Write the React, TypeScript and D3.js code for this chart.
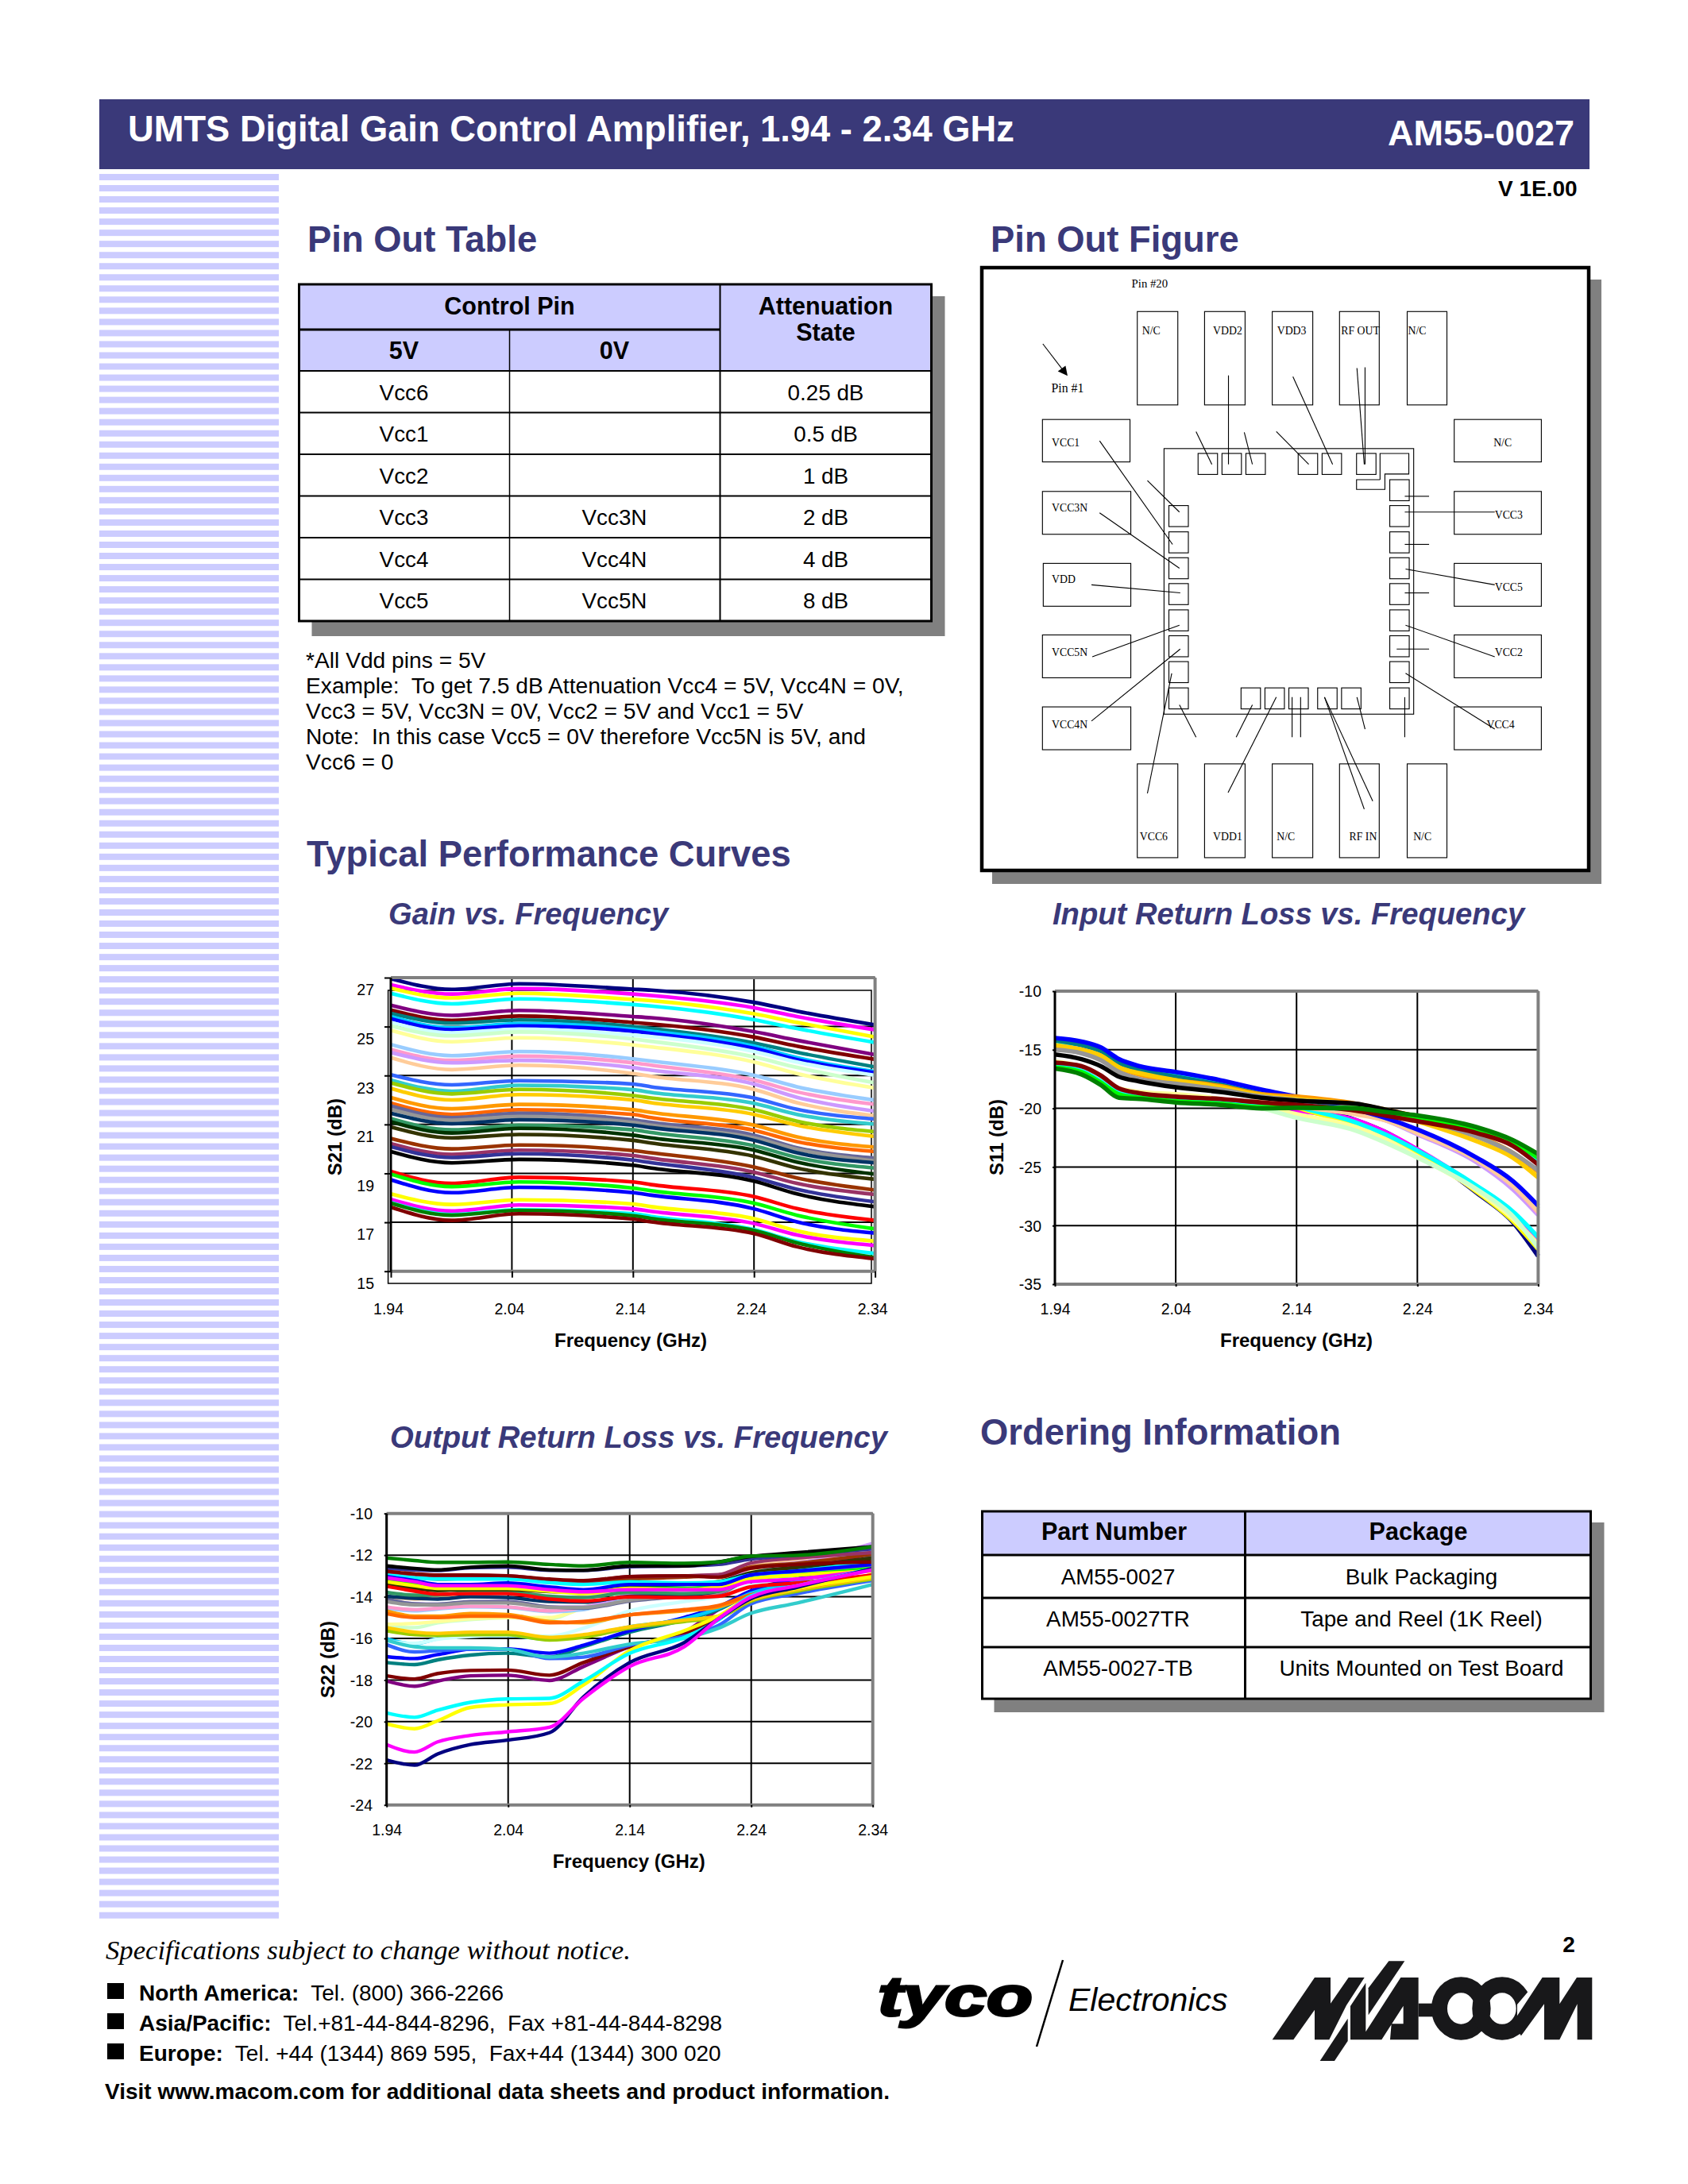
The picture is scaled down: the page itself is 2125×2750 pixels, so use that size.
import React, { useEffect, useRef } from "react";
import * as d3 from "d3";

const navy = "#3a3979";
const lilac = "#ccccff";
const sans = "Liberation Sans, Arial, sans-serif";
const serif = "Liberation Serif, Times New Roman, serif";

// the 40 attenuation states, excel chart palette order
const palette = [
    "#000080", "#ff00ff", "#ffff00", "#00ffff", "#800080", "#800000", "#008080", "#00ccff",
    "#0000ff", "#ccffff", "#ccffcc", "#ffff99", "#99ccff", "#ff99cc", "#cc99ff", "#ffcc99",
    "#3366ff", "#33cccc", "#99cc00", "#ffcc00", "#ff9900", "#ff6600", "#666699", "#969696",
    "#003366", "#339966", "#003300", "#333300", "#993300", "#993366", "#333399", "#000000",
    "#ff0000", "#00ff00", "#0000ff", "#ffff00", "#ff00ff", "#00ffff", "#008000", "#800000",
];

const freqTicks = [1.94, 2.04, 2.14, 2.24, 2.34];

const gainFreq = [1.94, 1.9905, 2.046, 2.14, 2.155, 2.24, 2.2755, 2.34];
const gainSeries = [
    [26.96, 26.52, 26.75, 26.53, 26.49, 25.99, 25.63, 25.07],
    [26.71, 26.33, 26.55, 26.33, 26.27, 25.77, 25.41, 24.87],
    [26.57, 26.17, 26.36, 26.11, 26.06, 25.52, 25.17, 24.57],
    [26.36, 25.93, 26.13, 25.90, 25.84, 25.28, 24.92, 24.35],
    [25.87, 25.46, 25.66, 25.41, 25.36, 24.79, 24.44, 23.85],
    [25.68, 25.25, 25.43, 25.17, 25.11, 24.57, 24.20, 23.66],
    [25.54, 25.14, 25.27, 25.00, 24.92, 24.33, 23.95, 23.35],
    [25.41, 24.95, 25.12, 24.89, 24.81, 24.20, 23.73, 23.16],
    [25.32, 24.87, 25.03, 24.81, 24.72, 24.11, 23.65, 23.11],
    [25.17, 24.74, 24.90, 24.65, 24.59, 23.98, 23.55, 23.01],
    [25.03, 24.62, 24.78, 24.49, 24.40, 23.76, 23.33, 22.70],
    [24.85, 24.38, 24.54, 24.25, 24.17, 23.55, 23.08, 22.49],
    [24.27, 23.81, 23.98, 23.68, 23.59, 23.01, 22.54, 21.99],
    [24.06, 23.62, 23.79, 23.52, 23.42, 22.81, 22.33, 21.82],
    [23.94, 23.52, 23.62, 23.32, 23.22, 22.65, 22.11, 21.54],
    [23.73, 23.24, 23.42, 23.08, 22.97, 22.43, 21.89, 21.35],
    [23.03, 22.62, 22.79, 22.65, 22.54, 22.08, 21.62, 21.22],
    [22.81, 22.36, 22.60, 22.42, 22.31, 21.86, 21.41, 21.01],
    [22.70, 22.25, 22.43, 22.18, 22.08, 21.60, 21.13, 20.70],
    [22.47, 22.00, 22.22, 22.00, 21.89, 21.41, 20.97, 20.51],
    [22.10, 21.64, 21.82, 21.60, 21.49, 20.97, 20.49, 20.07],
    [21.87, 21.41, 21.60, 21.41, 21.28, 20.76, 20.30, 19.89],
    [21.76, 21.28, 21.46, 21.19, 21.08, 20.56, 20.05, 19.62],
    [21.62, 21.17, 21.33, 21.08, 20.97, 20.45, 19.98, 19.51],
    [21.46, 21.03, 21.19, 20.97, 20.87, 20.35, 19.84, 19.43],
    [21.24, 20.78, 20.97, 20.78, 20.67, 20.13, 19.65, 19.22],
    [21.11, 20.65, 20.84, 20.56, 20.45, 19.95, 19.46, 18.97],
    [20.90, 20.45, 20.59, 20.35, 20.24, 19.70, 19.22, 18.76],
    [20.43, 20.00, 20.16, 19.93, 19.84, 19.26, 18.81, 18.32],
    [20.22, 19.78, 19.95, 19.73, 19.62, 19.05, 18.59, 18.14],
    [20.09, 19.65, 19.80, 19.54, 19.44, 18.83, 18.35, 17.84],
    [19.89, 19.43, 19.57, 19.33, 19.22, 18.68, 18.16, 17.64],
    [19.08, 18.59, 18.84, 18.65, 18.54, 18.05, 17.56, 17.08],
    [18.97, 18.46, 18.65, 18.40, 18.29, 17.78, 17.29, 16.73],
    [18.74, 18.21, 18.43, 18.21, 18.11, 17.55, 17.02, 16.56],
    [18.16, 17.73, 17.92, 17.75, 17.64, 17.15, 16.65, 16.23],
    [17.94, 17.46, 17.71, 17.55, 17.45, 16.95, 16.48, 16.05],
    [17.81, 17.32, 17.51, 17.35, 17.24, 16.70, 16.21, 15.73],
    [17.78, 17.29, 17.49, 17.27, 17.16, 16.67, 16.16, 15.56],
    [17.62, 17.08, 17.35, 17.13, 17.02, 16.54, 16.00, 15.51],
];

const s11Freq = [1.94, 1.962, 1.978, 1.993, 2.01, 2.04, 2.077, 2.111, 2.14, 2.189, 2.213, 2.24, 2.289, 2.319, 2.34];
const s11Colors = [
    "#000080", "#ff00ff", "#ffff00", "#00ffff", "#ffff99", "#ccffcc",
    "#008080", "#cc99ff", "#ff99cc", "#ffcc99", "#0000ff",
    "#ff9900", "#ffcc00", "#969696", "#000000", "#00ffff", "#00ff00", "#800000", "#008000",
];
const s11Series = [
    [-14.1, -14.4, -14.9, -16.0, -16.5, -17.1, -17.8, -18.6, -19.6, -21.0, -22.0, -23.6, -27.2, -29.7, -32.6],
    [-16.3, -16.7, -17.7, -18.6, -19.0, -19.2, -19.5, -19.8, -20.2, -21.0, -22.0, -23.5, -26.7, -29.0, -31.4],
    [-14.4, -14.7, -15.2, -16.2, -16.8, -17.3, -18.0, -18.8, -19.9, -21.4, -22.3, -23.8, -27.1, -29.6, -32.0],
    [-14.3, -14.6, -15.1, -16.1, -16.6, -17.2, -17.8, -18.7, -19.8, -21.2, -22.2, -23.6, -26.6, -28.8, -31.0],
    [-16.0, -16.5, -17.4, -18.3, -18.6, -18.8, -19.2, -19.8, -20.5, -21.6, -22.6, -24.1, -27.0, -29.4, -31.6],
    [-16.2, -16.6, -17.5, -18.4, -18.8, -19.1, -19.5, -20.0, -20.8, -21.9, -22.9, -24.2, -26.9, -29.2, -31.9],
    [-14.2, -14.6, -15.1, -16.1, -16.7, -17.3, -18.0, -18.8, -19.4, -20.2, -20.9, -22.1, -24.4, -26.5, -28.6],
    [-14.7, -15.0, -15.6, -16.6, -17.1, -17.7, -18.3, -19.1, -19.6, -20.4, -21.0, -22.2, -24.6, -26.9, -29.1],
    [-14.8, -15.1, -15.7, -16.7, -17.2, -17.8, -18.4, -19.1, -19.7, -20.4, -20.9, -22.1, -24.4, -26.6, -28.9],
    [-14.9, -15.2, -15.8, -16.8, -17.3, -17.9, -18.4, -19.2, -19.8, -20.5, -21.0, -22.1, -24.4, -26.6, -28.8],
    [-14.0, -14.3, -14.8, -15.8, -16.4, -16.9, -17.6, -18.4, -19.0, -20.1, -20.8, -21.8, -24.2, -26.2, -28.3],
    [-14.7, -15.0, -15.5, -16.5, -17.1, -17.6, -18.1, -18.8, -19.0, -19.6, -20.1, -20.7, -22.3, -23.8, -25.4],
    [-14.6, -15.0, -15.5, -16.5, -17.0, -17.6, -18.2, -18.9, -19.2, -19.7, -20.3, -21.1, -22.8, -24.2, -25.9],
    [-15.0, -15.3, -15.9, -16.9, -17.5, -17.9, -18.4, -19.0, -19.3, -19.7, -20.2, -20.9, -22.4, -23.8, -25.3],
    [-15.4, -15.8, -16.4, -17.3, -17.7, -18.2, -18.6, -19.1, -19.35, -19.6, -20.1, -20.7, -21.9, -23.0, -24.2],
    [-16.4, -16.8, -17.7, -18.7, -19.0, -19.3, -19.5, -19.8, -19.9, -20.1, -20.5, -20.9, -21.9, -23.0, -24.4],
    [-16.5, -16.9, -17.8, -18.8, -19.1, -19.4, -19.6, -19.9, -19.9, -20.0, -20.4, -20.8, -21.8, -22.9, -24.2],
    [-16.1, -16.4, -17.2, -18.3, -18.7, -19.0, -19.2, -19.5, -19.7, -20.2, -20.6, -21.1, -22.1, -23.2, -24.8],
    [-16.6, -17.1, -18.0, -19.1, -19.2, -19.5, -19.7, -20.0, -19.95, -20.0, -20.3, -20.6, -21.6, -22.7, -23.9],
];

const s22Freq = [1.94, 1.963, 1.982, 2.009, 2.039, 2.074, 2.102, 2.14, 2.185, 2.213, 2.239, 2.278, 2.34];
const s22Colors = [
    "#800080", "#800000", "#008080", "#0000ff",
    "#00ccff", "#ccffff", "#ccffcc", "#ffff99", "#99ccff", "#ff99cc", "#cc99ff", "#ffcc99",
    "#3366ff", "#33cccc", "#99cc00", "#ffcc00", "#ff9900", "#ff6600", "#666699", "#969696",
    "#003366", "#339966", "#003300", "#333300", "#993300", "#993366", "#333399", "#000000",
    "#00ff00", "#ffff00", "#00ffff", "#ff0000", "#0000ff", "#ff00ff", "#800000",
    "#ffff00", "#00ffff", "#000080", "#ff00ff", "#008000",
];
const s22Series = [
    [-18.05, -18.30, -18.05, -17.80, -17.77, -18.02, -17.35, -16.40, -15.70, -14.62, -13.85, -12.84, -11.95],
    [-17.80, -17.95, -17.69, -17.54, -17.52, -17.77, -17.16, -16.40, -15.76, -15.06, -14.17, -13.15, -12.39],
    [-17.16, -17.26, -17.03, -16.80, -16.71, -16.90, -16.40, -15.70, -15.12, -14.62, -13.85, -13.15, -12.07],
    [-16.88, -16.97, -16.78, -16.52, -16.50, -16.71, -16.33, -15.63, -14.99, -14.49, -13.73, -13.15, -12.52],
    [-16.01, -16.27, -16.01, -15.89, -15.86, -16.05, -15.89, -15.44, -15.06, -14.55, -13.85, -13.28, -12.20],
    [-16.14, -16.24, -16.04, -15.91, -15.86, -15.89, -15.51, -14.68, -14.23, -13.98, -13.47, -12.96, -12.07],
    [-15.44, -15.48, -15.25, -15.10, -15.00, -15.06, -14.49, -13.85, -13.60, -13.28, -12.71, -12.39, -11.63],
    [-15.32, -15.28, -15.19, -15.06, -15.00, -15.00, -14.55, -13.98, -13.66, -13.34, -12.71, -12.39, -11.50],
    [-14.55, -14.68, -14.59, -14.49, -14.51, -14.72, -14.62, -13.98, -13.85, -13.60, -12.90, -12.52, -11.82],
    [-14.49, -14.62, -14.55, -14.46, -14.49, -14.68, -14.51, -13.92, -13.85, -13.60, -12.64, -12.39, -11.56],
    [-14.17, -14.34, -14.36, -14.26, -14.23, -14.49, -14.49, -13.92, -13.79, -13.47, -12.58, -12.33, -11.44],
    [-13.98, -14.11, -14.04, -13.79, -13.73, -13.98, -14.04, -13.66, -13.60, -13.22, -12.45, -12.20, -11.63],
    [-16.30, -16.65, -16.59, -16.52, -16.52, -16.97, -16.90, -16.33, -15.89, -15.38, -14.36, -13.85, -13.22],
    [-16.08, -16.40, -16.46, -16.46, -16.52, -16.90, -16.71, -16.27, -15.99, -15.51, -14.81, -14.30, -13.41],
    [-15.63, -15.82, -15.86, -15.82, -15.82, -16.08, -15.95, -15.51, -15.19, -15.00, -14.23, -13.73, -13.15],
    [-15.48, -15.70, -15.76, -15.70, -15.70, -15.95, -15.82, -15.44, -15.12, -14.93, -14.17, -13.66, -13.09],
    [-14.68, -14.93, -14.93, -14.81, -14.85, -15.19, -15.25, -14.87, -14.68, -14.49, -13.98, -13.60, -13.03],
    [-14.81, -15.00, -15.00, -14.93, -14.93, -15.25, -15.19, -14.87, -14.62, -14.42, -13.92, -13.60, -12.94],
    [-14.11, -14.34, -14.36, -14.23, -14.23, -14.49, -14.55, -14.21, -13.98, -13.85, -13.15, -12.90, -12.07],
    [-14.23, -14.39, -14.39, -14.30, -14.30, -14.51, -14.51, -14.17, -13.92, -13.79, -13.09, -12.84, -12.52],
    [-13.98, -14.08, -14.11, -14.00, -14.04, -14.23, -14.26, -13.98, -13.92, -13.73, -13.03, -12.71, -12.39],
    [-13.79, -13.92, -13.92, -13.79, -13.79, -13.98, -14.04, -13.79, -13.85, -13.73, -12.96, -12.64, -12.26],
    [-13.34, -13.53, -13.66, -13.60, -13.60, -13.73, -13.73, -13.47, -13.41, -13.28, -12.86, -12.58, -12.20],
    [-13.41, -13.60, -13.70, -13.66, -13.66, -13.75, -13.79, -13.41, -13.37, -13.32, -12.90, -12.58, -12.14],
    [-12.90, -13.07, -13.15, -13.11, -13.09, -13.28, -13.34, -13.15, -13.06, -12.96, -12.58, -12.39, -11.95],
    [-12.84, -12.99, -13.06, -12.99, -12.99, -13.19, -13.24, -13.03, -12.99, -12.94, -12.39, -12.14, -11.88],
    [-12.65, -12.71, -12.74, -12.61, -12.58, -12.73, -12.73, -12.56, -12.52, -12.45, -12.20, -12.00, -11.70],
    [-12.52, -12.64, -12.71, -12.58, -12.52, -12.71, -12.73, -12.52, -12.52, -12.33, -12.07, -11.88, -11.59],
    [-13.15, -13.34, -13.53, -13.53, -13.50, -13.66, -13.79, -13.60, -13.60, -13.47, -13.15, -12.96, -12.64],
    [-13.28, -13.47, -13.60, -13.60, -13.60, -13.73, -13.85, -13.60, -13.66, -13.53, -13.15, -12.96, -12.77],
    [-12.96, -13.09, -13.15, -13.15, -13.15, -13.32, -13.41, -13.28, -13.34, -13.28, -12.96, -12.77, -12.33],
    [-13.50, -13.73, -13.88, -13.85, -13.85, -14.11, -14.21, -14.01, -14.04, -13.98, -13.53, -13.34, -12.96],
    [-13.03, -13.22, -13.41, -13.41, -13.34, -13.53, -13.66, -13.41, -13.41, -13.41, -12.96, -12.77, -12.45],
    [-13.09, -13.28, -13.47, -13.47, -13.47, -13.66, -13.76, -13.66, -13.66, -13.66, -13.28, -13.15, -12.71],
    [-12.77, -12.90, -12.96, -12.96, -12.99, -13.15, -13.22, -13.03, -12.99, -13.06, -12.64, -12.45, -12.33],
    [-20.11, -20.34, -19.96, -19.32, -19.19, -19.13, -18.24, -16.59, -15.63, -14.93, -14.04, -13.60, -13.03],
    [-19.58, -19.79, -19.45, -19.07, -18.91, -18.88, -18.05, -16.72, -15.95, -15.12, -13.98, -13.47, -12.64],
    [-21.84, -22.09, -21.55, -21.10, -20.89, -20.53, -18.81, -17.16, -16.20, -15.06, -14.11, -13.54, -12.64],
    [-21.10, -21.46, -20.97, -20.66, -20.49, -20.27, -18.88, -17.35, -16.40, -15.06, -14.04, -13.47, -12.71],
    [-12.14, -12.26, -12.35, -12.35, -12.33, -12.45, -12.52, -12.35, -12.39, -12.33, -12.05, -12.01, -11.59],
];

// pin out table
const pinRows = [
    ["Vcc6", "", "0.25 dB"],
    ["Vcc1", "", "0.5 dB"],
    ["Vcc2", "", "1 dB"],
    ["Vcc3", "Vcc3N", "2 dB"],
    ["Vcc4", "Vcc4N", "4 dB"],
    ["Vcc5", "Vcc5N", "8 dB"],
];
const notes = [
    "*All Vdd pins = 5V",
    "Example:  To get 7.5 dB Attenuation Vcc4 = 5V, Vcc4N = 0V,",
    "Vcc3 = 5V, Vcc3N = 0V, Vcc2 = 5V and Vcc1 = 5V",
    "Note:  In this case Vcc5 = 0V therefore Vcc5N is 5V, and",
    "Vcc6 = 0",
];
const orderRows = [
    ["AM55-0027", "Bulk Packaging"],
    ["AM55-0027TR", "Tape and Reel (1K Reel)"],
    ["AM55-0027-TB", "Units Mounted on Test Board"],
];

const bigPads: [number, number, number, number][] = [
    [413, 142, 100, 231], [579, 142, 100, 231], [746, 142, 100, 231], [912, 142, 98, 231], [1079, 142, 98, 231],
    [413, 1261, 100, 232], [579, 1261, 100, 232], [746, 1261, 100, 232], [912, 1261, 98, 232], [1079, 1261, 98, 232],
    [179, 409, 216, 105], [179, 587, 218, 106], [181, 765, 216, 106], [179, 942, 218, 106], [179, 1120, 218, 106],
    [1195, 409, 215, 105], [1195, 587, 215, 106], [1195, 765, 215, 106], [1195, 942, 215, 106], [1195, 1120, 215, 106],
    [479, 481, 616, 657],
];
const padLabels: [string, number, number][] = [
    ["N/C", 425, 198], ["VDD2", 600, 198], ["VDD3", 758, 198], ["RF OUT", 916, 198], ["N/C", 1081, 198],
    ["VCC6", 419, 1450], ["VDD1", 600, 1450], ["N/C", 757, 1450], ["RF IN", 936, 1450], ["N/C", 1094, 1450],
    ["VCC1", 202, 476], ["VCC3N", 202, 637], ["VDD", 202, 813], ["VCC5N", 202, 994], ["VCC4N", 202, 1172],
    ["N/C", 1292, 476], ["VCC3", 1295, 655], ["VCC5", 1295, 834], ["VCC2", 1295, 994], ["VCC4", 1275, 1172],
];
const smallPads: [number, number][] = [
    [563, 493], [622, 493], [681, 493], [810, 493], [869, 493], [954, 493],
    [491, 1073], [669, 1073], [728, 1073], [787, 1073], [858, 1073], [917, 1073], [1036, 1073],
    [491, 622], [491, 687], [491, 751], [491, 815], [491, 880], [491, 944], [491, 1008],
    [1036, 558], [1036, 622], [1036, 687], [1036, 751], [1036, 815], [1036, 880], [1036, 944], [1036, 1008],
];
const leads: [number, number, number, number][] = [
    [180, 222, 232, 290], [320, 462, 500, 718], [438, 560, 517, 638], [320, 640, 517, 777], [300, 818, 519, 838],
    [302, 996, 517, 918], [300, 1155, 519, 977], [438, 1334, 498, 1037], [517, 1115, 558, 1195],
    [558, 439, 597, 520], [638, 300, 638, 520], [677, 441, 697, 520], [756, 439, 836, 520], [797, 303, 895, 520],
    [955, 282, 973, 520], [975, 280, 975, 520],
    [1073, 599, 1133, 599], [1073, 638, 1295, 638], [1073, 718, 1133, 718], [1075, 779, 1295, 818], [1073, 838, 1133, 838],
    [1075, 918, 1295, 996], [1053, 977, 1133, 977], [1075, 1037, 1295, 1175], [1073, 1096, 1073, 1195],
    [697, 1115, 657, 1195], [756, 1096, 637, 1332], [795, 1096, 795, 1195], [816, 1096, 816, 1195],
    [875, 1096, 973, 1373], [875, 1096, 994, 1353], [955, 1096, 975, 1175],
];

interface IChartProps {
    left: number;
    top: number;
    width: number;
    height: number;
    freq: number[];
    series: number[][];
    colors: string[];
    yDomain: [number, number];
    yTicks: number[];
    yLabel: string;
    yLabelX: number;
    yLabelY: number;
    strokeWidth: number;
    tickLen: number;
    labelGap: number;
    xLabelGap: number;
    labelShift: [number, number];
    titleX: number;
    titleGap: number;
}

// one S-parameter panel: grid, 40-odd traces, axes, frame
const Chart = (props: IChartProps) => {
    const ref = useRef<SVGGElement>(null);

    useEffect(() => {
        const { width, height, freq, series, colors, yDomain, yTicks } = props;
        const [shiftX, shiftY] = props.labelShift;
        const x = d3.scaleLinear().domain([1.94, 2.34]).range([0, width]);
        const y = d3.scaleLinear().domain(yDomain).range([height, 0]);
        const g = d3.select(ref.current);
        g.selectAll("*").remove();

        g.append("g").selectAll("line").data(yTicks).enter().append("line")
            .attr("x1", 0).attr("x2", width)
            .attr("y1", d => y(d)).attr("y2", d => y(d))
            .attr("stroke", "#000").attr("stroke-width", 2);
        g.append("g").selectAll("line").data(freqTicks).enter().append("line")
            .attr("x1", d => x(d)).attr("x2", d => x(d))
            .attr("y1", 0).attr("y2", height)
            .attr("stroke", "#000").attr("stroke-width", 2);

        const line = d3.line<number>()
            .x((d, i) => x(freq[i]))
            .y(d => y(d))
            .curve(d3.curveMonotoneX);
        g.append("g").selectAll("path").data(series).enter().append("path")
            .attr("d", d => line(d))
            .attr("fill", "none")
            .attr("stroke", (d, i) => colors[i])
            .attr("stroke-width", props.strokeWidth);

        // frame, grey on three sides like the excel plot area
        const frame = [[0, 0, width, 0], [width, 0, width, height], [0, height, width, height]];
        g.append("g").selectAll("line").data(frame).enter().append("line")
            .attr("x1", d => d[0]).attr("y1", d => d[1])
            .attr("x2", d => d[2]).attr("y2", d => d[3])
            .attr("stroke", "#808080").attr("stroke-width", 4);
        g.append("line").attr("x1", 0).attr("x2", 0).attr("y1", 0).attr("y2", height)
            .attr("stroke", "#000").attr("stroke-width", 3);

        const yAxis = g.append("g").call(d3.axisLeft(y).tickValues(yTicks).tickFormat(d => String(d)).tickSize(props.tickLen).tickSizeOuter(0));
        const xAxis = g.append("g").attr("transform", `translate(0,${height})`)
            .call(d3.axisBottom(x).tickValues(freqTicks).tickFormat(d3.format(".2f") as any).tickSize(props.tickLen).tickSizeOuter(0));
        yAxis.select(".domain").remove();
        xAxis.select(".domain").remove();
        [yAxis, xAxis].forEach(a => {
            a.selectAll("line").attr("stroke", "#000").attr("stroke-width", 2);
            a.selectAll("text")
                .attr("font-family", sans)
                .attr("font-size", 19.5)
                .attr("fill", "#000")
                .attr("dy", "0.35em");
        });
        yAxis.selectAll("text")
            .attr("text-anchor", "end")
            .attr("x", -props.labelGap)
            .attr("y", shiftY);
        xAxis.selectAll("text")
            .attr("x", shiftX)
            .attr("y", props.xLabelGap + shiftY);

        g.append("text")
            .attr("x", props.titleX).attr("y", height + props.titleGap)
            .attr("text-anchor", "middle").attr("dy", "0.35em")
            .attr("font-family", sans).attr("font-size", 24).attr("font-weight", "bold")
            .text("Frequency (GHz)");
        g.append("text")
            .attr("transform", `translate(${props.yLabelX},${props.yLabelY}) rotate(-90)`)
            .attr("text-anchor", "middle").attr("dy", "0.35em")
            .attr("font-family", sans).attr("font-size", 24).attr("font-weight", "bold")
            .text(props.yLabel);
    }, []);

    return <g ref={ref} transform={`translate(${props.left},${props.top})`} />;
};

const Heading = (p: { x: number; y: number; children: string }) => (
    <text x={p.x} y={p.y} fontFamily={sans} fontSize={45.4} fontWeight="bold" fill={navy}>{p.children}</text>
);
const SubHeading = (p: { x: number; y: number; children: string }) => (
    <text x={p.x} y={p.y} fontFamily={sans} fontSize={38.2} fontWeight="bold" fontStyle="italic" fill={navy}>{p.children}</text>
);
const Cell = (p: { x: number; y: number; bold?: boolean; children: string }) => (
    <text x={p.x} y={p.y} fontFamily={sans} fontSize={p.bold ? 30.5 : 27.8} fontWeight={p.bold ? "bold" : "normal"} textAnchor="middle" dominantBaseline="central">{p.children}</text>
);

const PinTable = () => {
    const rowY = d3.scaleLinear().domain([0, 6]).range([467, 782]);
    return <g transform="translate(1.5,0)">
        <rect x={391} y={373} width={797} height={428} fill="#808080" />
        <rect x={375} y={358} width={796} height={424} fill="#fff" />
        <rect x={375} y={358} width={796} height={109} fill={lilac} />
        <g stroke="#000" strokeWidth={2}>
            <rect x={375} y={358} width={796} height={424} fill="none" strokeWidth={3} />
            <line x1={375} x2={905} y1={415} y2={415} strokeWidth={3} />
            <line x1={640} x2={640} y1={415} y2={782} strokeWidth={1.5} />
            <line x1={905} x2={905} y1={358} y2={782} />
            {d3.range(6).map(i => <line key={i} x1={375} x2={1171} y1={rowY(i)} y2={rowY(i)} />)}
        </g>
        <Cell x={640} y={385} bold>Control Pin</Cell>
        <Cell x={1038} y={385} bold>Attenuation</Cell>
        <Cell x={1038} y={418} bold>State</Cell>
        <Cell x={507} y={441} bold>5V</Cell>
        <Cell x={772} y={441} bold>0V</Cell>
        {pinRows.map((r, i) => <g key={i}>
            <Cell x={507} y={rowY(i) + 27}>{r[0]}</Cell>
            <Cell x={772} y={rowY(i) + 27}>{r[1]}</Cell>
            <Cell x={1038} y={rowY(i) + 27}>{r[2]}</Cell>
        </g>)}
    </g>;
};

const OrderTable = () => {
    const lines = [1958, 2012, 2074];
    const textY = [1985, 2038, 2100];
    return <g transform="translate(1.5,0)">
        <rect x={1250} y={1917} width={768} height={239} fill="#808080" />
        <rect x={1235} y={1903} width={766} height={236} fill="#fff" />
        <rect x={1235} y={1903} width={766} height={55} fill={lilac} />
        <g stroke="#000" strokeWidth={3}>
            <rect x={1235} y={1903} width={766} height={236} fill="none" />
            <line x1={1566} x2={1566} y1={1903} y2={2139} />
            {lines.map(l => <line key={l} x1={1235} x2={2001} y1={l} y2={l} />)}
        </g>
        <Cell x={1401} y={1928} bold>Part Number</Cell>
        <Cell x={1784} y={1928} bold>Package</Cell>
        {orderRows.map((r, i) => <g key={i}>
            <Cell x={1406} y={textY[i]}>{r[0]}</Cell>
            <Cell x={1788} y={textY[i]}>{r[1]}</Cell>
        </g>)}
    </g>;
};

const PinFigure = () => <g>
    <rect x={1249} y={352} width={767} height={761} fill="#808080" />
    <rect x={1236} y={337} width={764} height={759} fill="#fff" stroke="#000" strokeWidth={4.5} />
    <g transform="translate(1221,320) scale(0.5102,0.509)" stroke="#000" strokeWidth={2.2} fill="none">
        {bigPads.map((p, i) => <rect key={i} x={p[0]} y={p[1]} width={p[2]} height={p[3]} />)}
        {smallPads.map((p, i) => <rect key={i} x={p[0]} y={p[1]} width={48} height={52} />)}
        <polyline points="1012,558 1012,493 1083,493 1083,544 1024,544 1024,582 954,582 954,558 1012,558" />
        {leads.map((l, i) => <line key={i} x1={l[0]} y1={l[1]} x2={l[2]} y2={l[3]} />)}
        <polygon points="241,301 217,290 236,276" fill="#000" stroke="none" />
        <g fontFamily={serif} fontSize={27} fill="#000" stroke="none">
            {padLabels.map((p, i) => <text key={i} x={p[1]} y={p[2]}>{p[0]}</text>)}
            <text x={399} y={82} fontSize={29}>Pin #20</text>
            <text x={201} y={342} fontSize={31}>Pin #1</text>
        </g>
    </g>
</g>;

const Logos = () => <g fontFamily={sans}>
    <text x={1105} y={2538} fontSize={71} fontWeight="bold" fontStyle="italic" stroke="#000" strokeWidth={3} textLength={195} lengthAdjust="spacingAndGlyphs">tyco</text>
    <line x1={1338} y1={2468} x2={1305} y2={2577} stroke="#000" strokeWidth={2.5} />
    <text x={1345} y={2532} fontSize={41} fontStyle="italic">Electronics</text>
    <g transform="translate(1595,2460) scale(0.3333)" fill="#18181a">
        <polygon points="20,325 180,90 240,90 240,188 308,90 368,90 300,195 235,325 180,325 180,212 100,325" />
        <polygon points="460,28 520,28 383,232 383,130" />
        <polygon points="305,245 305,330 255,405 200,405" />
        <polygon points="315,198 373,110 373,295 505,90 572,90 572,325 465,325 470,265 515,265 515,197 433,325 315,325" />
        <rect x={572} y={188} width={68} height={50} />
        <ellipse cx={733} cy={207} rx={82} ry={89} fill="none" stroke="#18181a" strokeWidth={60} />
        <ellipse cx={888} cy={207} rx={83} ry={89} fill="none" stroke="#18181a" strokeWidth={60} />
        <polygon points="945,192 985,145 1015,80 1040,80 945,250" fill="#fff" />
        <polygon points="925,265 1040,90 1105,90 1105,190 1170,90 1228,90 1228,325 1172,325 1172,190 1105,325 1047,325 1047,190 960,310" />
    </g>
</g>;

const Footer = () => <g fontFamily={sans} fontSize={28}>
    <text x={133} y={2467} fontFamily={serif} fontStyle="italic" fontSize={34.7}>Specifications subject to change without notice.</text>
    {[2497, 2535, 2573].map(y => <rect key={y} x={135} y={y} width={21} height={20} fill="#000" />)}
    <text x={175} y={2519}><tspan fontWeight="bold">North America:</tspan><tspan xmlSpace="preserve">  Tel. (800) 366-2266</tspan></text>
    <text x={175} y={2557}><tspan fontWeight="bold">Asia/Pacific:</tspan><tspan xmlSpace="preserve">  Tel.+81-44-844-8296,  Fax +81-44-844-8298</tspan></text>
    <text x={175} y={2595}><tspan fontWeight="bold">Europe:</tspan><tspan xmlSpace="preserve">  Tel. +44 (1344) 869 595,  Fax+44 (1344) 300 020</tspan></text>
    <text x={132} y={2643} fontWeight="bold">Visit www.macom.com for additional data sheets and product information.</text>
    <text x={1975} y={2448} fontWeight="bold" textAnchor="middle" dominantBaseline="central">2</text>
</g>;

export default function App() {
    return <svg width={2125} height={2750} style={{ position: "absolute", left: 0, top: 0, background: "#fff" }} fill="#000">
        <rect x={125} y={125} width={1876} height={88} fill={navy} />
        <text x={161} y={178} fontFamily={sans} fontSize={45.3} fontWeight="bold" fill="#fff">UMTS Digital Gain Control Amplifier, 1.94 - 2.34 GHz</text>
        <text x={1747} y={183} fontFamily={sans} fontSize={45} fontWeight="bold" fill="#fff">AM55-0027</text>
        <text x={1886} y={247} fontFamily={sans} fontSize={28} fontWeight="bold">V 1E.00</text>
        {d3.range(157).map(i => <rect key={i} x={125} y={219 + i * 14.03} width={226} height={8} fill={lilac} />)}

        <Heading x={387} y={317}>Pin Out Table</Heading>
        <Heading x={1247} y={317}>Pin Out Figure</Heading>
        <PinTable />
        <g fontFamily={sans} fontSize={28.2}>
            {notes.map((n, i) => <text key={i} x={385} y={841 + i * 32} xmlSpace="preserve">{n}</text>)}
        </g>
        <PinFigure />

        <Heading x={386} y={1091}>Typical Performance Curves</Heading>
        <SubHeading x={489} y={1164}>Gain vs. Frequency</SubHeading>
        <SubHeading x={1325} y={1164}>Input Return Loss vs. Frequency</SubHeading>
        <SubHeading x={491} y={1823}>Output Return Loss vs. Frequency</SubHeading>
        <Heading x={1234} y={1819}>Ordering Information</Heading>

        <rect x={488.6} y={1247} width={608.4} height={369} fill="none" stroke="#000" strokeWidth={1.5} />
        <Chart left={492} top={1231} width={609.6} height={369.7} freq={gainFreq} series={gainSeries} colors={palette}
            yDomain={[15, 27]} yTicks={[15, 17, 19, 21, 23, 25, 27]} yLabel="S21 (dB)" yLabelX={-70} yLabelY={200.7}
            strokeWidth={4.6} tickLen={8} labelGap={21} xLabelGap={32} labelShift={[-3.5, 15]} titleX={302} titleGap={87} />
        <Chart left={1328} top={1248} width={608.4} height={369} freq={s11Freq} series={s11Series} colors={s11Colors}
            yDomain={[-35, -10]} yTicks={[-35, -30, -25, -20, -15, -10]} yLabel="S11 (dB)" yLabelX={-73} yLabelY={184}
            strokeWidth={5.6} tickLen={3} labelGap={17} xLabelGap={31} labelShift={[0, 0]} titleX={304} titleGap={71} />
        <Chart left={486.7} top={1905.7} width={612} height={367} freq={s22Freq} series={s22Series} colors={s22Colors}
            yDomain={[-24, -10]} yTicks={[-24, -22, -20, -18, -16, -14, -12, -10]} yLabel="S22 (dB)" yLabelX={-74} yLabelY={184}
            strokeWidth={4.4} tickLen={3} labelGap={17.7} xLabelGap={31} labelShift={[0, 0]} titleX={305} titleGap={71} />

        <OrderTable />
        <Logos />
        <Footer />
    </svg>;
}
